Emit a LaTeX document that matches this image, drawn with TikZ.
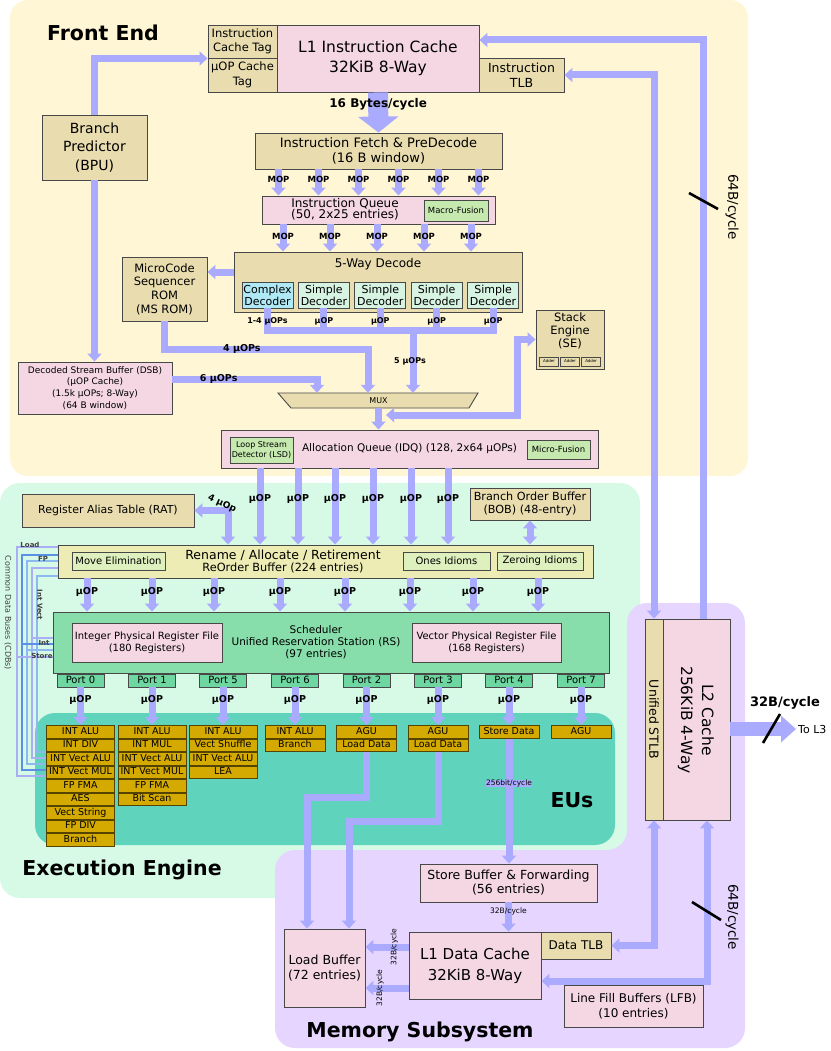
\documentclass[tikz,border=0pt]{standalone}
\usepackage{fontspec}
\setmainfont{DejaVu Sans}
\usepackage{tikz}
\usetikzlibrary{arrows.meta, positioning}

\definecolor{frontbg}{RGB}{255,246,213}
\definecolor{execbg}{RGB}{215,250,230}
\definecolor{membg}{RGB}{229,213,255}
\definecolor{eubg}{RGB}{95,211,188}
\definecolor{tanfill}{RGB}{233,221,175}
\definecolor{pinkfill}{RGB}{244,215,227}
\definecolor{fusefill}{RGB}{198,233,175}
\definecolor{complexfill}{RGB}{175,233,245}
\definecolor{simplefill}{RGB}{215,244,227}
\definecolor{robfill}{RGB}{236,236,180}
\definecolor{idiomfill}{RGB}{221,240,190}
\definecolor{rsfill}{RGB}{135,222,170}
\definecolor{portfill}{RGB}{110,214,160}
\definecolor{eugold}{RGB}{212,170,0}
\definecolor{eudark}{RGB}{85,68,0}
\definecolor{flow}{RGB}{170,170,255}
\definecolor{edge}{RGB}{72,72,72}
\definecolor{cdblav}{RGB}{170,175,245}
\definecolor{cdbdark}{RGB}{90,145,230}
\definecolor{cdblight}{RGB}{140,185,240}

\newcommand{\fsz}[2]{\fontsize{#1}{#2}\selectfont}

\tikzstyle{block} = [rectangle, draw=edge, line width=0.9pt, inner sep=0pt, align=center]
\tikzstyle{tanbox} = [block, fill=tanfill]
\tikzstyle{pinkbox} = [block, fill=pinkfill]
\tikzstyle{fusebox} = [block, fill=fusefill, font=\fsz{8.5}{10}]
\tikzstyle{idiom} = [block, fill=idiomfill, minimum height=18, font=\fsz{10}{11}]
\tikzstyle{decoder} = [block, fill=simplefill, minimum width=51, minimum height=26, font=\fsz{11}{12}]
\tikzstyle{port} = [block, fill=portfill, minimum width=47, minimum height=13, text height=7pt, text depth=2pt, font=\fsz{10}{11}]
\tikzstyle{eu} = [block, draw=eudark, fill=eugold, minimum width=60, minimum height=12.6, text height=7pt, text depth=2pt, font=\fsz{9.5}{10}]
\tikzstyle{euwide} = [eu, minimum width=68]
\tikzstyle{line} = [draw=flow, line width=7pt, -{Triangle[length=8pt,width=14pt]}]
\tikzstyle{dline} = [draw=flow, line width=7pt, {Triangle[length=8pt,width=14pt]}-{Triangle[length=8pt,width=14pt]}]
\tikzstyle{bus} = [draw=flow, line width=7pt]
\tikzstyle{flowlabel} = [font=\bfseries\fsz{9.5}{10}, inner sep=0pt]
\tikzstyle{moplabel} = [font=\bfseries\fsz{8.5}{9}, inner sep=0pt]
\tikzstyle{ratelabel} = [font=\fsz{7.5}{8}, inner sep=0pt]
\tikzstyle{heading} = [font=\bfseries\fsz{20.5}{24}, inner sep=0pt]
\tikzstyle{cdb} = [line width=1.6pt]
\tikzstyle{cdblabel} = [font=\bfseries\fsz{7}{8}, text=black!75, inner sep=0pt]
\tikzstyle{slash} = [draw=black, line width=2.6pt]

\begin{document}
\begin{tikzpicture}[x=1pt, y=-1pt]
    \useasboundingbox (0,0) rectangle (830,1051);
    % Regions
    \fill[frontbg, rounded corners=18pt] (10,0) rectangle (748,476);
    \fill[execbg, rounded corners=20pt] (0,483) rectangle (640,898);
    \fill[membg, rounded corners=20pt] (627,603) -- (745,603) -- (745,1048) -- (275,1048) -- (275,850) -- (627,850) -- cycle;
    \fill[eubg, rounded corners=20pt] (35,713) rectangle (615,845);

    % Place nodes: front end
    \node[heading] (fetitle) at (103,33) {Front End};
    \node[tanbox, minimum width=69, minimum height=33, font=\fsz{11.5}{14.5}] (ictag) at (242.5,41.5) {Instruction\\Cache Tag};
    \node[tanbox, minimum width=69, minimum height=34, font=\fsz{11.5}{14.5}] (uoptag) at (242.5,75) {µOP Cache\\Tag};
    \node[pinkbox, minimum width=202, minimum height=67, font=\fsz{15.5}{20}] (l1i) at (378,58.5) {L1 Instruction Cache\\32KiB 8-Way};
    \node[tanbox, minimum width=85, minimum height=34, font=\fsz{12.5}{15}] (itlb) at (521.5,75) {Instruction\\TLB};
    \node[tanbox, minimum width=105, minimum height=65, font=\fsz{14}{18.5}] (bpu) at (94.5,147.5) {Branch\\Predictor\\(BPU)};
    \node[tanbox, minimum width=247, minimum height=36, font=\fsz{13}{15}] (fetch) at (378.5,151) {Instruction Fetch \& PreDecode\\(16 B window)};
    \node[pinkbox, minimum width=233, minimum height=28] (iq) at (378.5,210) {};
    \node[font=\fsz{12}{11}, align=center] (iqtext) at (345,209.5) {Instruction Queue\\(50, 2x25 entries)};
    \node[fusebox, minimum width=64, minimum height=21] (macro) at (456,210.5) {Macro-Fusion};
    \node[tanbox, minimum width=288, minimum height=60] (decode) at (378,282) {};
    \node[font=\fsz{12}{13}] (decodetext) at (378,264) {5-Way Decode};
    \node[decoder, fill=complexfill] (dec1) at (267.5,295) {Complex\\Decoder};
    \node[decoder, right=4.5pt of dec1] (dec2) {Simple\\Decoder};
    \node[decoder, right=4.5pt of dec2] (dec3) {Simple\\Decoder};
    \node[decoder, right=4.5pt of dec3] (dec4) {Simple\\Decoder};
    \node[decoder, right=4.5pt of dec4] (dec5) {Simple\\Decoder};
    \node[tanbox, minimum width=85, minimum height=64, font=\fsz{11.5}{13.7}] (msrom) at (164.5,289) {MicroCode\\Sequencer\\ROM\\(MS ROM)};
    \node[pinkbox, minimum width=154, minimum height=52, font=\fsz{9}{11.7}] (dsb) at (95,388) {Decoded Stream Buffer (DSB)\\(µOP Cache)\\(1.5k µOPs; 8-Way)\\(64 B window)};
    \filldraw[fill=tanfill, draw=edge, line width=0.9pt] (278,393) -- (478,393) -- (469,408) -- (291,408) -- cycle;
    \node[font=\fsz{8}{9}, minimum width=189, minimum height=15, inner sep=0pt] (mux) at (378.5,400.5) {MUX};
    \node[tanbox, minimum width=68, minimum height=59] (se) at (570,339.5) {};
    \node[font=\fsz{11.5}{13}, align=center] (setext) at (570,331) {Stack\\Engine\\(SE)};
    \node[block, line width=0.6pt, minimum width=19, minimum height=9, font=\fsz{4}{4}] (add1) at (549,361.5) {Adder};
    \node[block, line width=0.6pt, minimum width=19, minimum height=9, font=\fsz{4}{4}, right=1.5pt of add1] (add2) {Adder};
    \node[block, line width=0.6pt, minimum width=19, minimum height=9, font=\fsz{4}{4}, right=1.5pt of add2] (add3) {Adder};
    \node[pinkbox, minimum width=377, minimum height=38, font=\fsz{10.5}{12}] (idq) at (409.5,449) {Allocation Queue (IDQ) (128, 2x64 µOPs)};
    \node[fusebox, minimum width=63, minimum height=26, font=\fsz{8}{10}] (lsd) at (261.5,450) {Loop Stream\\Detector (LSD)};
    \node[fusebox, minimum width=63, minimum height=19] (micro) at (558.5,449.5) {Micro-Fusion};

    % Place nodes: execution engine
    \node[heading] (eetitle) at (122,870) {Execution Engine};
    \node[tanbox, minimum width=172, minimum height=33, font=\fsz{11}{12}] (rat) at (108,510.5) {Register Alias Table (RAT)};
    \node[tanbox, minimum width=120, minimum height=32, font=\fsz{11.2}{13.5}] (bob) at (530,504) {Branch Order Buffer\\(BOB) (48-entry)};
    \node[block, fill=robfill, minimum width=535, minimum height=33] (rob) at (325.5,561.5) {};
    \node[align=center, font=\fsz{12}{12}] (robtext) at (283,561) {{\fsz{12.5}{12}Rename / Allocate / Retirement}\\{\fsz{11.3}{12}ReOrder Buffer (224 entries)}};
    \node[idiom, minimum width=93] (moveelim) at (118.5,561) {Move Elimination};
    \node[idiom, minimum width=87] (ones) at (446.5,561) {Ones Idioms};
    \node[idiom, minimum width=86] (zeroing) at (540,561) {Zeroing Idioms};
    \node[block, fill=rsfill, minimum width=556, minimum height=61] (rs) at (331,642.5) {};
    \node[align=center, font=\fsz{10.5}{12}] (rstext) at (316,642) {Scheduler\\Unified Reservation Station (RS)\\(97 entries)};
    \node[pinkbox, minimum width=150, minimum height=39, font=\fsz{10}{12.5}] (intprf) at (147,642.5) {Integer Physical Register File\\(180 Registers)};
    \node[pinkbox, minimum width=149, minimum height=39, font=\fsz{10}{12.5}] (vecprf) at (486.5,642.5) {Vector Physical Register File\\(168 Registers)};
    \node[port] (p0) at (80.5,680.5) {Port 0};
    \node[port] (p1) at (152,680.5) {Port 1};
    \node[port] (p5) at (223,680.5) {Port 5};
    \node[port] (p6) at (295,680.5) {Port 6};
    \node[port] (p2) at (366.5,680.5) {Port 2};
    \node[port] (p3) at (438,680.5) {Port 3};
    \node[port] (p4) at (509,680.5) {Port 4};
    \node[port] (p7) at (581,680.5) {Port 7};
    \node[heading] (eutitle) at (572,800) {EUs};
    % execution units
    \node[euwide, anchor=north] (p0a) at (80.5,725) {INT ALU};
    \node[euwide, below=0pt of p0a] (p0b) {INT DIV};
    \node[euwide, below=0pt of p0b] (p0c) {INT Vect ALU};
    \node[euwide, below=0pt of p0c] (p0d) {INT Vect MUL};
    \node[euwide, below=0pt of p0d] (p0e) {FP FMA};
    \node[euwide, below=0pt of p0e] (p0f) {AES};
    \node[euwide, below=0pt of p0f] (p0g) {Vect String};
    \node[euwide, below=0pt of p0g] (p0h) {FP DIV};
    \node[euwide, below=0pt of p0h] (p0i) {Branch};
    \node[euwide, anchor=north] (p1a) at (152,725) {INT ALU};
    \node[euwide, below=0pt of p1a] (p1b) {INT MUL};
    \node[euwide, below=0pt of p1b] (p1c) {INT Vect ALU};
    \node[euwide, below=0pt of p1c] (p1d) {INT Vect MUL};
    \node[euwide, below=0pt of p1d] (p1e) {FP FMA};
    \node[euwide, below=0pt of p1e] (p1f) {Bit Scan};
    \node[euwide, anchor=north] (p5a) at (223,725) {INT ALU};
    \node[euwide, below=0pt of p5a] (p5b) {Vect Shuffle};
    \node[euwide, below=0pt of p5b] (p5c) {INT Vect ALU};
    \node[euwide, below=0pt of p5c] (p5d) {LEA};
    \node[eu, anchor=north] (p6a) at (295,725) {INT ALU};
    \node[eu, below=0pt of p6a] (p6b) {Branch};
    \node[eu, anchor=north] (p2a) at (366.5,725) {AGU};
    \node[eu, below=0pt of p2a] (p2b) {Load Data};
    \node[eu, anchor=north] (p3a) at (438,725) {AGU};
    \node[eu, below=0pt of p3a] (p3b) {Load Data};
    \node[eu, anchor=north] (p4a) at (509,725) {Store Data};
    \node[eu, anchor=north] (p7a) at (581,725) {AGU};

    % Place nodes: memory subsystem
    \node[heading] (mstitle) at (420,1032) {Memory Subsystem};
    \node[pinkbox, minimum width=177, minimum height=38, font=\fsz{12.5}{14}] (sb) at (508.5,883) {Store Buffer \& Forwarding\\(56 entries)};
    \node[pinkbox, minimum width=81, minimum height=78, font=\fsz{12.5}{15.5}] (lb) at (324.5,968) {Load Buffer\\(72 entries)};
    \node[pinkbox, minimum width=132, minimum height=67, font=\fsz{15}{21}] (l1d) at (475,965.5) {L1 Data Cache\\32KiB 8-Way};
    \node[tanbox, minimum width=70, minimum height=27, font=\fsz{12}{13}] (dtlb) at (576,945.5) {Data TLB};
    \node[pinkbox, minimum width=139, minimum height=42, font=\fsz{12}{15}] (lfb) at (633.5,1006) {Line Fill Buffers (LFB)\\(10 entries)};
    \node[tanbox, minimum width=18, minimum height=201] (stlb) at (654,719.5) {};
    \node[rotate=-90, font=\fsz{12.5}{14}] (stlbtext) at (654,719.5) {Unified STLB};
    \node[pinkbox, minimum width=67, minimum height=201] (l2) at (696.5,719.5) {};
    \node[rotate=-90, align=center, font=\fsz{15.5}{21}] (l2text) at (696,720) {L2 Cache\\256KiB 4-Way};
    \node[font=\fsz{11}{12}, anchor=west, inner sep=2pt] (tol3) at (796,729) {To L3};

    % Draw edges: front end
    \path[line] (bpu.north) |- (ictag.south west);
    \path[line] (bpu.south) -- (bpu.south |- dsb.north);
    \path[draw=flow, line width=20pt, -{Triangle[length=16pt,width=40pt]}] (l1i.south) -- node[font=\bfseries\fsz{12}{13}, pos=0.3] {16 Bytes/cycle} (fetch.north);
    \path[line] ([xshift=-100]fetch.south) -- node[moplabel, pos=0.37] {MOP} ([xshift=-100]iq.north);
    \path[line] ([xshift=-60]fetch.south) -- node[moplabel, pos=0.37] {MOP} ([xshift=-60]iq.north);
    \path[line] ([xshift=-20]fetch.south) -- node[moplabel, pos=0.37] {MOP} ([xshift=-20]iq.north);
    \path[line] ([xshift=20]fetch.south) -- node[moplabel, pos=0.37] {MOP} ([xshift=20]iq.north);
    \path[line] ([xshift=60]fetch.south) -- node[moplabel, pos=0.37] {MOP} ([xshift=60]iq.north);
    \path[line] ([xshift=100]fetch.south) -- node[moplabel, pos=0.37] {MOP} ([xshift=100]iq.north);
    \path[line] (iq.south -| 283,0) -- node[moplabel, pos=0.43] {MOP} (decode.north -| 283,0);
    \path[line] (iq.south -| 330,0) -- node[moplabel, pos=0.43] {MOP} (decode.north -| 330,0);
    \path[line] (iq.south -| 377,0) -- node[moplabel, pos=0.43] {MOP} (decode.north -| 377,0);
    \path[line] (iq.south -| 424,0) -- node[moplabel, pos=0.43] {MOP} (decode.north -| 424,0);
    \path[line] (iq.south -| 471,0) -- node[moplabel, pos=0.43] {MOP} (decode.north -| 471,0);
    \path[line] (decode.west |- 0,272) -- (msrom.east |- 0,272);
    \coordinate (bus5) at (413,330);
    \path[bus] (dec1.south) |- (bus5) -| (dec5.south);
    \path[bus] (dec2.south) -- (dec2.south |- bus5);
    \path[bus] (dec3.south) -- (dec3.south |- bus5);
    \path[bus] (dec4.south) -- (dec4.south |- bus5);
    \node[moplabel, font=\bfseries\fsz{8}{9}] (lab14) at ([yshift=-13]dec1.south) {1-4 µOPs};
    \node[moplabel, font=\bfseries\fsz{8}{9}] (lab2) at ([yshift=-13]dec2.south) {µOP};
    \node[moplabel, font=\bfseries\fsz{8}{9}] (lab3) at ([yshift=-13]dec3.south) {µOP};
    \node[moplabel, font=\bfseries\fsz{8}{9}] (lab4) at ([yshift=-13]dec4.south) {µOP};
    \node[moplabel, font=\bfseries\fsz{8}{9}] (lab5) at ([yshift=-13]dec5.south) {µOP};
    \path[line] (bus5) -- node[moplabel, font=\bfseries\fsz{8}{9}, xshift=-3] {5 µOPs} (bus5 |- mux.north);
    \path[line] (msrom.south) |- node[flowlabel, pos=0.69] {4 µOPs} (368,349) -- (368,349 |- mux.north);
    \path[line] (dsb.east |- 0,379) -| node[flowlabel, pos=0.16] {6 µOPs} (317,0 |- mux.north);
    \path[line] (mux.south) -- (mux.south |- idq.north);
    \coordinate (sejoin) at (386,415);
    \path[dline] (sejoin) -| (517,0 |- se.west) -- (se.west);
    \path[dline] (itlb.east) -| (stlb.north);
    \path[line] ([xshift=6.5]l2.north) |- (l1i.east |- 0,40);
    \draw[slash] (689,193) -- (718,209);
    \node[rotate=-90, font=\fsz{13.5}{14}] (rate64a) at (732,207) {64B/cycle};

    % Draw edges: execution engine
    \path[line] (idq.south -| 260,0) -- node[flowlabel, pos=0.4] {µOP} (rob.north -| 260,0);
    \path[line] (idq.south -| 298,0) -- node[flowlabel, pos=0.4] {µOP} (rob.north -| 298,0);
    \path[line] (idq.south -| 335,0) -- node[flowlabel, pos=0.4] {µOP} (rob.north -| 335,0);
    \path[line] (idq.south -| 373,0) -- node[flowlabel, pos=0.4] {µOP} (rob.north -| 373,0);
    \path[line] (idq.south -| 411,0) -- node[flowlabel, pos=0.4] {µOP} (rob.north -| 411,0);
    \path[line] (idq.south -| 448,0) -- node[flowlabel, pos=0.4] {µOP} (rob.north -| 448,0);
    \path[dline] (rob.north -| 228,0) |- (rat.east);
    \node[flowlabel, font=\bfseries\fsz{9}{10}, rotate=-25] (lab4uop) at (222,504) {4 µOp};
    \path[dline] (bob.south) -- (bob.south |- rob.north);
    \path[line] (rob.south -| 87,0) -- node[flowlabel, pos=0.41] {µOP} (rs.north -| 87,0);
    \path[line] (rob.south -| 152,0) -- node[flowlabel, pos=0.41] {µOP} (rs.north -| 152,0);
    \path[line] (rob.south -| 214,0) -- node[flowlabel, pos=0.41] {µOP} (rs.north -| 214,0);
    \path[line] (rob.south -| 280,0) -- node[flowlabel, pos=0.41] {µOP} (rs.north -| 280,0);
    \path[line] (rob.south -| 345,0) -- node[flowlabel, pos=0.41] {µOP} (rs.north -| 345,0);
    \path[line] (rob.south -| 410,0) -- node[flowlabel, pos=0.41] {µOP} (rs.north -| 410,0);
    \path[line] (rob.south -| 473,0) -- node[flowlabel, pos=0.41] {µOP} (rs.north -| 473,0);
    \path[line] (rob.south -| 538,0) -- node[flowlabel, pos=0.41] {µOP} (rs.north -| 538,0);
    \path[line] (p0.south) -- node[flowlabel, pos=0.34] {µOP} (p0a.north);
    \path[line] (p1.south) -- node[flowlabel, pos=0.34] {µOP} (p1a.north);
    \path[line] (p5.south) -- node[flowlabel, pos=0.34] {µOP} (p5a.north);
    \path[line] (p6.south) -- node[flowlabel, pos=0.34] {µOP} (p6a.north);
    \path[line] (p2.south) -- node[flowlabel, pos=0.34] {µOP} (p2a.north);
    \path[line] (p3.south) -- node[flowlabel, pos=0.34] {µOP} (p3a.north);
    \path[line] (p4.south) -- node[flowlabel, pos=0.34] {µOP} (p4a.north);
    \path[line] (p7.south) -- node[flowlabel, pos=0.34] {µOP} (p7a.north);
    % common data buses
    \draw[cdb, cdblav] (rob.west |- 0,547) -| (17,776) -- (p0a.west |- 0,776);
    \draw[cdb, cdbdark] (rob.west |- 0,555) -| (22,770) -- (p0a.west |- 0,770);
    \draw[cdb, cdblight] (rob.west |- 0,561) -| (27,764) -- (p0a.west |- 0,764);
    \draw[cdb, cdblav] (rob.west |- 0,568) -| (32,758) -- (p0a.west |- 0,758);
    \draw[cdb, cdblight] (rob.west |- 0,576) -| (37,752) -- (p0a.west |- 0,752);
    \draw[cdb, cdblav] (rs.west |- 0,638) -- (32,638);
    \draw[cdb, cdbdark] (rs.west |- 0,644) -- (22,644);
    \draw[cdb, cdblight] (rs.west |- 0,650) -- (27,650);
    \draw[cdb, cdblav] (rs.west |- 0,657) -- (17,657);
    \node[cdblabel] (cdbload) at (30,545) {Load};
    \node[cdblabel] (cdbfp) at (43,559) {FP};
    \node[cdblabel, rotate=-90] (cdbvect) at (40,605) {Int Vect};
    \node[cdblabel] (cdbint) at (44,643) {Int};
    \node[cdblabel] (cdbstore) at (42,656) {Store};
    \node[font=\fsz{8}{9}, text=black!75, rotate=-90] (cdbname) at (8,613) {Common Data Buses (CDBs)};

    % Draw edges: memory subsystem
    \path[line] (p2b.south) |- (307,797) -- (307,797 |- lb.north);
    \path[line] (p3b.south) |- (349,821) -- (349,821 |- lb.north);
    \path[line] (p4a.south) -- node[ratelabel, pos=0.36, fill=flow] {256bit/cycle} (p4a.south |- sb.north);
    \path[line] (sb.south) -- node[ratelabel, pos=0.3] {32B/cycle} (sb.south |- l1d.north);
    \path[line] (l1d.west |- 0,947) -- node[ratelabel, rotate=90, pos=0.33] {32B/cycle} (lb.east |- 0,947);
    \path[line] (l1d.west |- 0,988) -- node[ratelabel, rotate=90, pos=0.66] {32B/cycle} (lb.east |- 0,988);
    \path[dline] (stlb.south) |- (dtlb.east);
    \path[dline] ([xshift=10.5]l2.south) |- (l1d.east |- 0,981);
    \draw[slash] (692,902) -- (721,920);
    \node[rotate=-90, font=\fsz{13.5}{14}] (rate64b) at (732,917) {64B/cycle};
    \path[draw=flow, line width=14pt, -{Triangle[length=15pt,width=26pt]}] (l2.east |- 0,729) -- (tol3.west);
    \draw[slash] (763,743) -- (780,714);
    \node[font=\bfseries\fsz{13}{14}] (rate32) at (785,703) {32B/cycle};
\end{tikzpicture}
\end{document}
